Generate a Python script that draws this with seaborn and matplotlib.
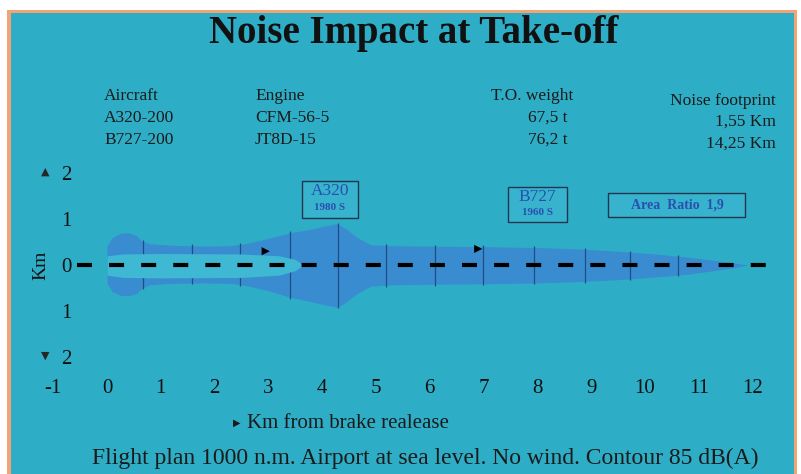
import numpy as np
import pandas as pd
import matplotlib.pyplot as plt
from matplotlib.patches import Rectangle
import seaborn as sns

# Tabella in alto
aircraft = ["A320-200", "B727-200"]
engines = ["CFM-56-5", "JT8D-15"]
to_weights = ["67,5 t", "76,2 t"]
footprints = ["1,55 Km", "14,25 Km"]

# Assi
x_ticks = list(range(-1, 13))
y_ticks = [2, 1, 0, -1, -2]
y_tick_labels = ["2", "1", "0", "1", "2"]

# Contorno 85 dB(A) (km)
contour_x = [0.0, 0.1, 0.25, 0.4, 0.55, 0.65, 0.8, 1.2, 1.8, 2.3, 2.6, 3.0, 3.4, 3.8, 4.1, 4.28,
             4.45, 4.65, 4.9, 5.3, 6.0, 7.0, 8.0, 8.8, 9.5, 10.2, 10.8, 11.3, 11.7, 11.9]
contour_upper = [0.42, 0.60, 0.69, 0.70, 0.64, 0.52, 0.46, 0.43, 0.41, 0.42, 0.47, 0.58, 0.70, 0.78, 0.86, 0.90,
                 0.78, 0.60, 0.44, 0.42, 0.41, 0.40, 0.38, 0.35, 0.30, 0.24, 0.17, 0.10, 0.04, 0.0]
contour_lower = [-0.40, -0.58, -0.66, -0.67, -0.62, -0.50, -0.43, -0.40, -0.39, -0.40, -0.45, -0.56, -0.70, -0.80, -0.88, -0.92,
                 -0.80, -0.62, -0.46, -0.43, -0.42, -0.41, -0.39, -0.36, -0.32, -0.26, -0.20, -0.12, -0.05, 0.0]

# Zona interna chiara (corsa a terra)
gap_x = [0.0, 0.3, 1.0, 2.5, 3.2, 3.5, 3.65]
gap_upper = [0.20, 0.24, 0.25, 0.24, 0.20, 0.12, 0.0]
gap_lower = [-0.22, -0.27, -0.28, -0.27, -0.22, -0.12, 0.0]

# Linee verticali della griglia del disegno
grid_x = [0.67, 1.58, 2.47, 3.40, 4.29, 5.19, 6.10, 6.99, 7.94, 8.88, 9.72, 10.61]

# Frecce
arrow_x = [2.95, 6.9]
arrow_y = [0.3, 0.35]

# Asse centrale
track_x = [-0.55, 12.3]
track_y = [0, 0]

W, H = 801, 474
BG = "#2eaec6"
SHAPE = "#3a8cd0"
GAP = "#3fb8d4"
BOXTXT = "#2a4fb0"

sns.set_theme(style="white")
plt.rcParams["font.family"] = ["Liberation Serif", "DejaVu Sans"]

fig = plt.figure(figsize=(W / 100, H / 100), dpi=100)
fig.patch.set_facecolor("white")
fig.patches.append(Rectangle((7 / W, 0), 790 / W, 1 - 10 / H, transform=fig.transFigure,
                             facecolor="#f4a374", edgecolor="none", zorder=-10))
fig.patches.append(Rectangle((11 / W, 0), 783 / W, 1 - 13 / H, transform=fig.transFigure,
                             facecolor=BG, edgecolor="none", zorder=-9))


def fx(px):
    return px / W


def fy(py):
    return 1 - py / H


# Assi: left px 30, right px 790, top py 150, bottom py 372
ax = fig.add_axes([fx(30), fy(372), (790 - 30) / W, (372 - 150) / H])
ax.set_facecolor("none")
ax.set_xlim((30 - 107) / 53.8, (790 - 107) / 53.8)
ax.set_ylim((265 - 372) / 46, (265 - 150) / 46)
for s in ax.spines.values():
    s.set_visible(False)

ax.fill_between(contour_x, contour_lower, contour_upper, color=SHAPE, lw=0, zorder=1)
cx = np.array(grid_x)
lo = np.interp(cx, contour_x, contour_lower)
hi = np.interp(cx, contour_x, contour_upper)
ax.vlines(cx, lo - 0.03, hi + 0.03, color="#1d4f86", lw=0.9, zorder=2)
ax.fill_between(gap_x, gap_lower, gap_upper, color=GAP, lw=0, zorder=3)

df_track = pd.DataFrame({"x": track_x, "y": track_y})
sns.lineplot(data=df_track, x="x", y="y", color="black", lw=3,
             linestyle=(0, (3.6, 4.1)), ax=ax, zorder=4)
sns.scatterplot(x=arrow_x, y=arrow_y, marker=">", s=35, color="black", edgecolor="none", ax=ax, zorder=5)

# Riquadri
boxes = [((3.62, 1.02), 1.04, 0.81, "A320", "1980 S", 4.14),
         ((7.45, 0.93), 1.10, 0.77, "B727", "1960 S", 8.0)]
for (x0, y0), w, h, t1, t2, xc in boxes:
    ax.add_patch(Rectangle((x0, y0), w, h, facecolor="#38b3cd", edgecolor="#23344f", lw=1, zorder=3))
    ax.text(xc, y0 + h * 0.72, t1, color=BOXTXT, fontsize=12.5, ha="center", va="center", zorder=4)
    ax.text(xc, y0 + h * 0.28, t2, color=BOXTXT, fontsize=8, fontweight="bold", ha="center", va="center", zorder=4)
ax.add_patch(Rectangle((9.31, 1.04), 2.55, 0.53, facecolor="#38b3cd", edgecolor="#23344f", lw=1, zorder=3))
ax.text(10.6, 1.3, "Area  Ratio  1,9", color=BOXTXT, fontsize=10, fontweight="bold",
        ha="center", va="center", zorder=4)

# Tick
ax.set_xticks(x_ticks)
ax.set_xticklabels([str(t) for t in x_ticks])
ax.set_yticks(y_ticks)
ax.set_yticklabels(y_tick_labels)
ax.tick_params(axis="x", length=0, pad=5, labelsize=15, labelcolor="#111111")
ax.tick_params(axis="y", length=0, pad=-30, labelsize=15, labelcolor="#111111")
ax.set_xlabel("")
ax.set_ylabel("Km", fontsize=14, color="#111111")
ax.yaxis.set_label_coords(0.025, 0.48)

fig.text(fx(45), fy(172), "\u25b2", fontsize=8, ha="center", va="center", family=["DejaVu Sans"])
fig.text(fx(45), fy(356), "\u25bc", fontsize=8, ha="center", va="center", family=["DejaVu Sans"])

# Titolo e tabella
fig.text(fx(414), fy(34), "Noise Impact at Take-off", fontsize=28, fontweight="bold",
         ha="center", va="center", color="#111111")
tc = "#1a1a1a"
fs = 12.5
fig.text(fx(104), fy(96), "Aircraft", fontsize=fs, ha="left", va="center", color=tc)
fig.text(fx(255), fy(96), "Engine", fontsize=fs, ha="left", va="center", color=tc)
fig.text(fx(573), fy(96), "T.O. weight", fontsize=fs, ha="right", va="center", color=tc)
fig.text(fx(776), fy(101), "Noise footprint", fontsize=fs, ha="right", va="center", color=tc)
for i in range(2):
    y = 118 + 22 * i
    fig.text(fx(104), fy(y), aircraft[i], fontsize=fs, ha="left", va="center", color=tc)
    fig.text(fx(255), fy(y), engines[i], fontsize=fs, ha="left", va="center", color=tc)
    fig.text(fx(568), fy(y), to_weights[i], fontsize=fs, ha="right", va="center", color=tc)
    fig.text(fx(776), fy(y + 4), footprints[i], fontsize=fs, ha="right", va="center", color=tc)

# Note in basso
fig.text(fx(237), fy(423), "\u25b6", fontsize=7, ha="center", va="center", color=tc, family=["DejaVu Sans"])
fig.text(fx(247), fy(423), "Km from brake realease", fontsize=15, ha="left", va="center", color=tc)
fig.text(fx(425), fy(458), "Flight plan 1000 n.m. Airport at sea level. No wind. Contour 85 dB(A)",
         fontsize=17, ha="center", va="center", color=tc)

fig.savefig("out.png", dpi=100)
